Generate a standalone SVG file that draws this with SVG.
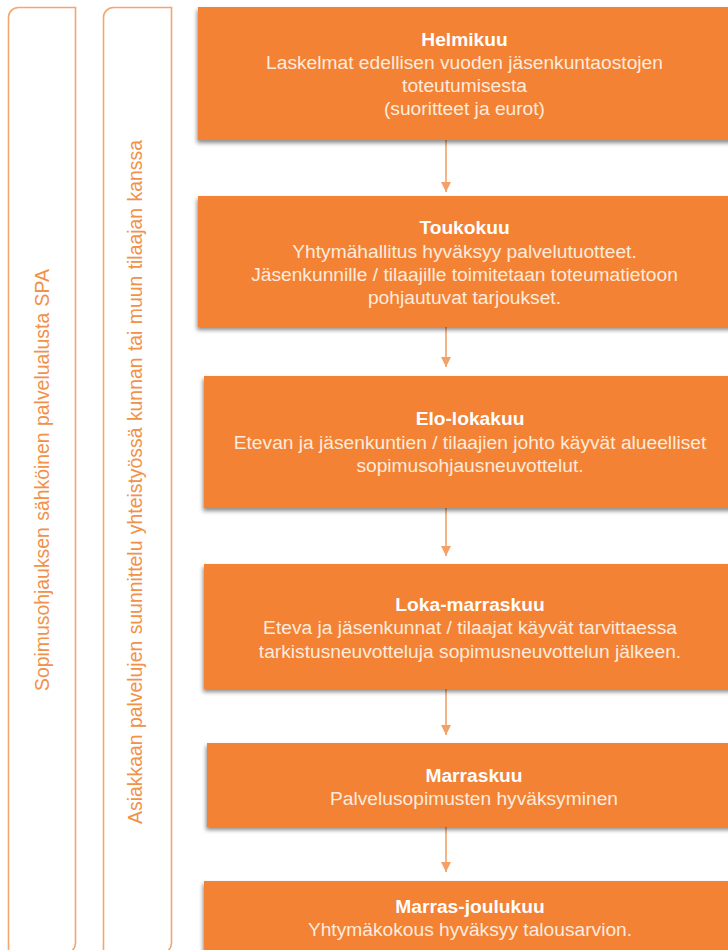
<svg xmlns="http://www.w3.org/2000/svg" width="728" height="950" viewBox="0 0 728 950">
  <defs>
    <filter id="sh" x="-5%" y="-10%" width="110%" height="130%">
      <feDropShadow dx="-1" dy="3" stdDeviation="2" flood-color="#000" flood-opacity="0.45"/>
    </filter>
    <marker id="ah" markerUnits="userSpaceOnUse" markerWidth="10" markerHeight="10" refX="10" refY="5" orient="auto">
      <path d="M0,0 L10,5 L0,10 z" fill="#F4A067"/>
    </marker>
  </defs>
  <style>
    .panel { fill: none; stroke: #F5A56F; stroke-width: 1.6; }
    .vt { font-family: "Liberation Sans", Arial, sans-serif; font-size: 19.4px; fill: #F2914A; text-anchor: middle; word-spacing: 1px; }
    .box { fill: #F38235; filter: url(#sh); }
    .t { font-family: "Liberation Sans", Arial, sans-serif; font-size: 19.2px; text-anchor: middle; }
    .tt { font-weight: bold; fill: #FFFFFF; }
    .tb { fill: #FDEBDD; }
    .conn { stroke: #F4A067; stroke-width: 1.6; fill: none; marker-end: url(#ah); }
  </style>
  <rect width="728" height="950" fill="#FFFFFF"/>

  <g id="panel-spa">
    <path class="panel" d="M8.5,960 L8.5,17.5 A10,10 0 0 1 18.5,7.5 L75.5,7.5 L75.5,943 A10,10 0 0 1 65.5,953"/>
    <text class="vt" transform="translate(49,480) rotate(-90)">Sopimusohjauksen sähköinen palvelualusta SPA</text>
  </g>
  <g id="panel-asiakas">
    <path class="panel" d="M103.5,960 L103.5,17.5 A10,10 0 0 1 113.5,7.5 L171.5,7.5 L171.5,943 A10,10 0 0 1 161.5,953"/>
    <text class="vt" transform="translate(141.5,482) rotate(-90)">Asiakkaan palvelujen suunnittelu yhteistyössä kunnan tai muun tilaajan kanssa</text>
  </g>

  <g id="connectors">
    <line class="conn" x1="446" y1="140" x2="446" y2="192"/>
    <line class="conn" x1="446" y1="327" x2="446" y2="367"/>
    <line class="conn" x1="446" y1="508" x2="446" y2="556"/>
    <line class="conn" x1="446" y1="689" x2="446" y2="735"/>
    <line class="conn" x1="446" y1="827" x2="446" y2="872"/>
  </g>

  <g id="helmikuu">
    <rect class="box" x="198" y="7" width="545" height="133"/>
    <text class="t" x="464.5"><tspan class="tt" x="464.5" y="46">Helmikuu</tspan><tspan class="tb" x="464.5" y="69">Laskelmat edellisen vuoden jäsenkuntaostojen</tspan><tspan class="tb" x="464.5" y="92">toteutumisesta</tspan><tspan class="tb" x="464.5" y="115">(suoritteet ja eurot)</tspan></text>
  </g>
  <g id="toukokuu">
    <rect class="box" x="198" y="196" width="545" height="131"/>
    <text class="t" x="464.5"><tspan class="tt" x="464.5" y="234">Toukokuu</tspan><tspan class="tb" x="464.5" y="258">Yhtymähallitus hyväksyy palvelutuotteet.</tspan><tspan class="tb" x="464.5" y="281">Jäsenkunnille / tilaajille toimitetaan toteumatietoon</tspan><tspan class="tb" x="464.5" y="304">pohjautuvat tarjoukset.</tspan></text>
  </g>
  <g id="elo-lokakuu">
    <rect class="box" x="204" y="376" width="540" height="132"/>
    <text class="t" x="470"><tspan class="tt" x="470" y="425">Elo-lokakuu</tspan><tspan class="tb" x="470" y="449">Etevan ja jäsenkuntien / tilaajien johto käyvät alueelliset</tspan><tspan class="tb" x="470" y="472">sopimusohjausneuvottelut.</tspan></text>
  </g>
  <g id="loka-marraskuu">
    <rect class="box" x="204" y="564" width="540" height="125"/>
    <text class="t" x="470"><tspan class="tt" x="470" y="611">Loka-marraskuu</tspan><tspan class="tb" x="470" y="634">Eteva ja jäsenkunnat / tilaajat käyvät tarvittaessa</tspan><tspan class="tb" x="470" y="658">tarkistusneuvotteluja sopimusneuvottelun jälkeen.</tspan></text>
  </g>
  <g id="marraskuu">
    <rect class="box" x="207" y="743" width="540" height="84"/>
    <text class="t" x="474"><tspan class="tt" x="474" y="782">Marraskuu</tspan><tspan class="tb" x="474" y="805">Palvelusopimusten hyväksyminen</tspan></text>
  </g>
  <g id="marras-joulukuu">
    <rect class="box" x="204" y="881" width="540" height="80"/>
    <text class="t" x="470"><tspan class="tt" x="470" y="913">Marras-joulukuu</tspan><tspan class="tb" x="470" y="936">Yhtymäkokous hyväksyy talousarvion.</tspan></text>
  </g>
</svg>
